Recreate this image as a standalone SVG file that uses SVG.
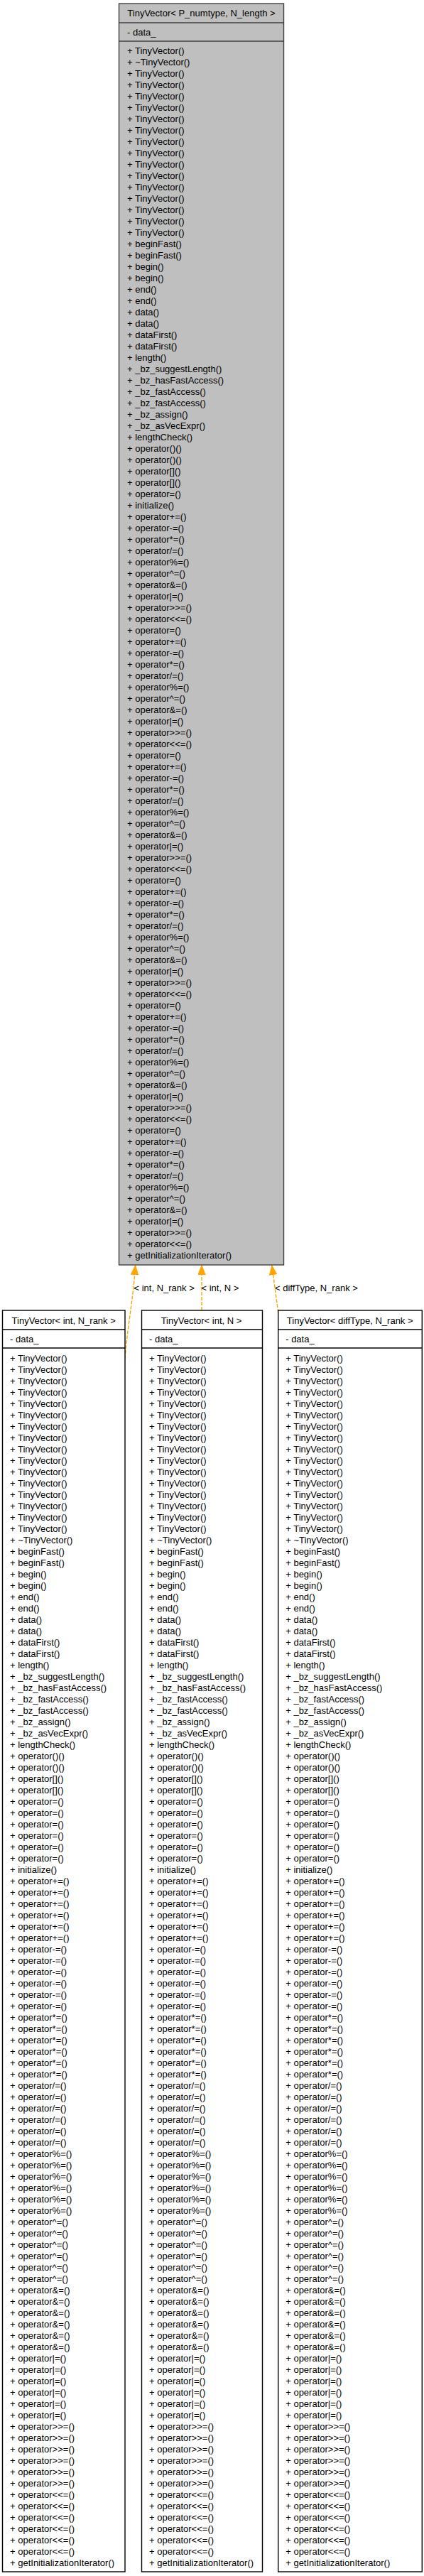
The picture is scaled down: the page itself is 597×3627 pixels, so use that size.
<svg xmlns="http://www.w3.org/2000/svg" width="597" height="3627" viewBox="0 0 597 3627">
<style>
.t{font-family:"Liberation Sans",Arial,Helvetica,sans-serif;font-size:13px;fill:#000}
.ttl{text-anchor:middle}
.base .box{fill:#bfbfbf;stroke:#404040;stroke-width:1.4}
.base .sep{stroke:#404040;stroke-width:1.4}
.inst .box{fill:#fff;stroke:#000;stroke-width:1.4}
.inst .sep{stroke:#000;stroke-width:1.4}
.edge{fill:none;stroke:#ffa500;stroke-width:1.4;stroke-dasharray:5,2}
.lbl{font-family:"Liberation Sans",Arial,Helvetica,sans-serif;font-size:13px;fill:#000}
</style>
<defs>
<marker id="ah" viewBox="0 0 14 11" refX="0" refY="5.5" markerWidth="14" markerHeight="11" markerUnits="userSpaceOnUse" orient="auto">
<path d="M0,0 L14,5.5 L0,11 z" fill="#ffa500" stroke="#ffa500" stroke-width="0.5"/>
</marker>
</defs>
<rect x="0" y="0" width="597" height="3627" fill="#fff"/>

<g id="connectors">
<path class="edge" d="M176,1913 C178,1880 187,1830 189.6,1795" marker-end="url(#ah)"/>
<path class="edge" d="M284,1845 L284,1795" marker-end="url(#ah)"/>
<path class="edge" d="M391.7,1848 L384.6,1795" marker-end="url(#ah)"/>
<text class="lbl" x="188.5" y="1818">&lt; int, N_rank &gt;</text>
<text class="lbl" x="283.5" y="1818">&lt; int, N &gt;</text>
<text class="lbl" x="387" y="1818">&lt; diffType, N_rank &gt;</text>
</g>

<g id="node_base" class="base" transform="translate(167.5,5)">
<rect class="box" x="0" y="0" width="232" height="1776"/>
<line class="sep" x1="0" y1="27" x2="232" y2="27"/>
<line class="sep" x1="0" y1="53" x2="232" y2="53"/>
<text class="t ttl" x="116" y="18.3">TinyVector&lt; P_numtype, N_length &gt;</text>
<text class="t" x="11.5" y="44.5">- data_</text>
<text class="t"><tspan x="11.5" y="71.3">+ TinyVector()</tspan><tspan x="11.5" dy="16">+ ~TinyVector()</tspan><tspan x="11.5" dy="16">+ TinyVector()</tspan><tspan x="11.5" dy="16">+ TinyVector()</tspan><tspan x="11.5" dy="16">+ TinyVector()</tspan><tspan x="11.5" dy="16">+ TinyVector()</tspan><tspan x="11.5" dy="16">+ TinyVector()</tspan><tspan x="11.5" dy="16">+ TinyVector()</tspan><tspan x="11.5" dy="16">+ TinyVector()</tspan><tspan x="11.5" dy="16">+ TinyVector()</tspan><tspan x="11.5" dy="16">+ TinyVector()</tspan><tspan x="11.5" dy="16">+ TinyVector()</tspan><tspan x="11.5" dy="16">+ TinyVector()</tspan><tspan x="11.5" dy="16">+ TinyVector()</tspan><tspan x="11.5" dy="16">+ TinyVector()</tspan><tspan x="11.5" dy="16">+ TinyVector()</tspan><tspan x="11.5" dy="16">+ TinyVector()</tspan><tspan x="11.5" dy="16">+ beginFast()</tspan><tspan x="11.5" dy="16">+ beginFast()</tspan><tspan x="11.5" dy="16">+ begin()</tspan><tspan x="11.5" dy="16">+ begin()</tspan><tspan x="11.5" dy="16">+ end()</tspan><tspan x="11.5" dy="16">+ end()</tspan><tspan x="11.5" dy="16">+ data()</tspan><tspan x="11.5" dy="16">+ data()</tspan><tspan x="11.5" dy="16">+ dataFirst()</tspan><tspan x="11.5" dy="16">+ dataFirst()</tspan><tspan x="11.5" dy="16">+ length()</tspan><tspan x="11.5" dy="16">+ _bz_suggestLength()</tspan><tspan x="11.5" dy="16">+ _bz_hasFastAccess()</tspan><tspan x="11.5" dy="16">+ _bz_fastAccess()</tspan><tspan x="11.5" dy="16">+ _bz_fastAccess()</tspan><tspan x="11.5" dy="16">+ _bz_assign()</tspan><tspan x="11.5" dy="16">+ _bz_asVecExpr()</tspan><tspan x="11.5" dy="16">+ lengthCheck()</tspan><tspan x="11.5" dy="16">+ operator()()</tspan><tspan x="11.5" dy="16">+ operator()()</tspan><tspan x="11.5" dy="16">+ operator[]()</tspan><tspan x="11.5" dy="16">+ operator[]()</tspan><tspan x="11.5" dy="16">+ operator=()</tspan><tspan x="11.5" dy="16">+ initialize()</tspan><tspan x="11.5" dy="16">+ operator+=()</tspan><tspan x="11.5" dy="16">+ operator-=()</tspan><tspan x="11.5" dy="16">+ operator*=()</tspan><tspan x="11.5" dy="16">+ operator/=()</tspan><tspan x="11.5" dy="16">+ operator%=()</tspan><tspan x="11.5" dy="16">+ operator^=()</tspan><tspan x="11.5" dy="16">+ operator&amp;=()</tspan><tspan x="11.5" dy="16">+ operator|=()</tspan><tspan x="11.5" dy="16">+ operator&gt;&gt;=()</tspan><tspan x="11.5" dy="16">+ operator&lt;&lt;=()</tspan><tspan x="11.5" dy="16">+ operator=()</tspan><tspan x="11.5" dy="16">+ operator+=()</tspan><tspan x="11.5" dy="16">+ operator-=()</tspan><tspan x="11.5" dy="16">+ operator*=()</tspan><tspan x="11.5" dy="16">+ operator/=()</tspan><tspan x="11.5" dy="16">+ operator%=()</tspan><tspan x="11.5" dy="16">+ operator^=()</tspan><tspan x="11.5" dy="16">+ operator&amp;=()</tspan><tspan x="11.5" dy="16">+ operator|=()</tspan><tspan x="11.5" dy="16">+ operator&gt;&gt;=()</tspan><tspan x="11.5" dy="16">+ operator&lt;&lt;=()</tspan><tspan x="11.5" dy="16">+ operator=()</tspan><tspan x="11.5" dy="16">+ operator+=()</tspan><tspan x="11.5" dy="16">+ operator-=()</tspan><tspan x="11.5" dy="16">+ operator*=()</tspan><tspan x="11.5" dy="16">+ operator/=()</tspan><tspan x="11.5" dy="16">+ operator%=()</tspan><tspan x="11.5" dy="16">+ operator^=()</tspan><tspan x="11.5" dy="16">+ operator&amp;=()</tspan><tspan x="11.5" dy="16">+ operator|=()</tspan><tspan x="11.5" dy="16">+ operator&gt;&gt;=()</tspan><tspan x="11.5" dy="16">+ operator&lt;&lt;=()</tspan><tspan x="11.5" dy="16">+ operator=()</tspan><tspan x="11.5" dy="16">+ operator+=()</tspan><tspan x="11.5" dy="16">+ operator-=()</tspan><tspan x="11.5" dy="16">+ operator*=()</tspan><tspan x="11.5" dy="16">+ operator/=()</tspan><tspan x="11.5" dy="16">+ operator%=()</tspan><tspan x="11.5" dy="16">+ operator^=()</tspan><tspan x="11.5" dy="16">+ operator&amp;=()</tspan><tspan x="11.5" dy="16">+ operator|=()</tspan><tspan x="11.5" dy="16">+ operator&gt;&gt;=()</tspan><tspan x="11.5" dy="16">+ operator&lt;&lt;=()</tspan><tspan x="11.5" dy="16">+ operator=()</tspan><tspan x="11.5" dy="16">+ operator+=()</tspan><tspan x="11.5" dy="16">+ operator-=()</tspan><tspan x="11.5" dy="16">+ operator*=()</tspan><tspan x="11.5" dy="16">+ operator/=()</tspan><tspan x="11.5" dy="16">+ operator%=()</tspan><tspan x="11.5" dy="16">+ operator^=()</tspan><tspan x="11.5" dy="16">+ operator&amp;=()</tspan><tspan x="11.5" dy="16">+ operator|=()</tspan><tspan x="11.5" dy="16">+ operator&gt;&gt;=()</tspan><tspan x="11.5" dy="16">+ operator&lt;&lt;=()</tspan><tspan x="11.5" dy="16">+ operator=()</tspan><tspan x="11.5" dy="16">+ operator+=()</tspan><tspan x="11.5" dy="16">+ operator-=()</tspan><tspan x="11.5" dy="16">+ operator*=()</tspan><tspan x="11.5" dy="16">+ operator/=()</tspan><tspan x="11.5" dy="16">+ operator%=()</tspan><tspan x="11.5" dy="16">+ operator^=()</tspan><tspan x="11.5" dy="16">+ operator&amp;=()</tspan><tspan x="11.5" dy="16">+ operator|=()</tspan><tspan x="11.5" dy="16">+ operator&gt;&gt;=()</tspan><tspan x="11.5" dy="16">+ operator&lt;&lt;=()</tspan><tspan x="11.5" dy="16">+ getInitializationIterator()</tspan></text>
</g>

<g id="node_int_N_rank" class="inst" transform="translate(3.5,1845)">
<rect class="box" x="0" y="0" width="172.5" height="1776"/>
<line class="sep" x1="0" y1="27" x2="172.5" y2="27"/>
<line class="sep" x1="0" y1="53" x2="172.5" y2="53"/>
<text class="t ttl" x="86.2" y="18.8">TinyVector&lt; int, N_rank &gt;</text>
<text class="t" x="10.5" y="44.5">- data_</text>
<text class="t"><tspan x="10.5" y="71.5">+ TinyVector()</tspan><tspan x="10.5" dy="16">+ TinyVector()</tspan><tspan x="10.5" dy="16">+ TinyVector()</tspan><tspan x="10.5" dy="16">+ TinyVector()</tspan><tspan x="10.5" dy="16">+ TinyVector()</tspan><tspan x="10.5" dy="16">+ TinyVector()</tspan><tspan x="10.5" dy="16">+ TinyVector()</tspan><tspan x="10.5" dy="16">+ TinyVector()</tspan><tspan x="10.5" dy="16">+ TinyVector()</tspan><tspan x="10.5" dy="16">+ TinyVector()</tspan><tspan x="10.5" dy="16">+ TinyVector()</tspan><tspan x="10.5" dy="16">+ TinyVector()</tspan><tspan x="10.5" dy="16">+ TinyVector()</tspan><tspan x="10.5" dy="16">+ TinyVector()</tspan><tspan x="10.5" dy="16">+ TinyVector()</tspan><tspan x="10.5" dy="16">+ TinyVector()</tspan><tspan x="10.5" dy="16">+ ~TinyVector()</tspan><tspan x="10.5" dy="16">+ beginFast()</tspan><tspan x="10.5" dy="16">+ beginFast()</tspan><tspan x="10.5" dy="16">+ begin()</tspan><tspan x="10.5" dy="16">+ begin()</tspan><tspan x="10.5" dy="16">+ end()</tspan><tspan x="10.5" dy="16">+ end()</tspan><tspan x="10.5" dy="16">+ data()</tspan><tspan x="10.5" dy="16">+ data()</tspan><tspan x="10.5" dy="16">+ dataFirst()</tspan><tspan x="10.5" dy="16">+ dataFirst()</tspan><tspan x="10.5" dy="16">+ length()</tspan><tspan x="10.5" dy="16">+ _bz_suggestLength()</tspan><tspan x="10.5" dy="16">+ _bz_hasFastAccess()</tspan><tspan x="10.5" dy="16">+ _bz_fastAccess()</tspan><tspan x="10.5" dy="16">+ _bz_fastAccess()</tspan><tspan x="10.5" dy="16">+ _bz_assign()</tspan><tspan x="10.5" dy="16">+ _bz_asVecExpr()</tspan><tspan x="10.5" dy="16">+ lengthCheck()</tspan><tspan x="10.5" dy="16">+ operator()()</tspan><tspan x="10.5" dy="16">+ operator()()</tspan><tspan x="10.5" dy="16">+ operator[]()</tspan><tspan x="10.5" dy="16">+ operator[]()</tspan><tspan x="10.5" dy="16">+ operator=()</tspan><tspan x="10.5" dy="16">+ operator=()</tspan><tspan x="10.5" dy="16">+ operator=()</tspan><tspan x="10.5" dy="16">+ operator=()</tspan><tspan x="10.5" dy="16">+ operator=()</tspan><tspan x="10.5" dy="16">+ operator=()</tspan><tspan x="10.5" dy="16">+ initialize()</tspan><tspan x="10.5" dy="16">+ operator+=()</tspan><tspan x="10.5" dy="16">+ operator+=()</tspan><tspan x="10.5" dy="16">+ operator+=()</tspan><tspan x="10.5" dy="16">+ operator+=()</tspan><tspan x="10.5" dy="16">+ operator+=()</tspan><tspan x="10.5" dy="16">+ operator+=()</tspan><tspan x="10.5" dy="16">+ operator-=()</tspan><tspan x="10.5" dy="16">+ operator-=()</tspan><tspan x="10.5" dy="16">+ operator-=()</tspan><tspan x="10.5" dy="16">+ operator-=()</tspan><tspan x="10.5" dy="16">+ operator-=()</tspan><tspan x="10.5" dy="16">+ operator-=()</tspan><tspan x="10.5" dy="16">+ operator*=()</tspan><tspan x="10.5" dy="16">+ operator*=()</tspan><tspan x="10.5" dy="16">+ operator*=()</tspan><tspan x="10.5" dy="16">+ operator*=()</tspan><tspan x="10.5" dy="16">+ operator*=()</tspan><tspan x="10.5" dy="16">+ operator*=()</tspan><tspan x="10.5" dy="16">+ operator/=()</tspan><tspan x="10.5" dy="16">+ operator/=()</tspan><tspan x="10.5" dy="16">+ operator/=()</tspan><tspan x="10.5" dy="16">+ operator/=()</tspan><tspan x="10.5" dy="16">+ operator/=()</tspan><tspan x="10.5" dy="16">+ operator/=()</tspan><tspan x="10.5" dy="16">+ operator%=()</tspan><tspan x="10.5" dy="16">+ operator%=()</tspan><tspan x="10.5" dy="16">+ operator%=()</tspan><tspan x="10.5" dy="16">+ operator%=()</tspan><tspan x="10.5" dy="16">+ operator%=()</tspan><tspan x="10.5" dy="16">+ operator%=()</tspan><tspan x="10.5" dy="16">+ operator^=()</tspan><tspan x="10.5" dy="16">+ operator^=()</tspan><tspan x="10.5" dy="16">+ operator^=()</tspan><tspan x="10.5" dy="16">+ operator^=()</tspan><tspan x="10.5" dy="16">+ operator^=()</tspan><tspan x="10.5" dy="16">+ operator^=()</tspan><tspan x="10.5" dy="16">+ operator&amp;=()</tspan><tspan x="10.5" dy="16">+ operator&amp;=()</tspan><tspan x="10.5" dy="16">+ operator&amp;=()</tspan><tspan x="10.5" dy="16">+ operator&amp;=()</tspan><tspan x="10.5" dy="16">+ operator&amp;=()</tspan><tspan x="10.5" dy="16">+ operator&amp;=()</tspan><tspan x="10.5" dy="16">+ operator|=()</tspan><tspan x="10.5" dy="16">+ operator|=()</tspan><tspan x="10.5" dy="16">+ operator|=()</tspan><tspan x="10.5" dy="16">+ operator|=()</tspan><tspan x="10.5" dy="16">+ operator|=()</tspan><tspan x="10.5" dy="16">+ operator|=()</tspan><tspan x="10.5" dy="16">+ operator&gt;&gt;=()</tspan><tspan x="10.5" dy="16">+ operator&gt;&gt;=()</tspan><tspan x="10.5" dy="16">+ operator&gt;&gt;=()</tspan><tspan x="10.5" dy="16">+ operator&gt;&gt;=()</tspan><tspan x="10.5" dy="16">+ operator&gt;&gt;=()</tspan><tspan x="10.5" dy="16">+ operator&gt;&gt;=()</tspan><tspan x="10.5" dy="16">+ operator&lt;&lt;=()</tspan><tspan x="10.5" dy="16">+ operator&lt;&lt;=()</tspan><tspan x="10.5" dy="16">+ operator&lt;&lt;=()</tspan><tspan x="10.5" dy="16">+ operator&lt;&lt;=()</tspan><tspan x="10.5" dy="16">+ operator&lt;&lt;=()</tspan><tspan x="10.5" dy="16">+ operator&lt;&lt;=()</tspan><tspan x="10.5" dy="16">+ getInitializationIterator()</tspan></text>
</g>

<g id="node_int_N" class="inst" transform="translate(199.5,1845)">
<rect class="box" x="0" y="0" width="170" height="1776"/>
<line class="sep" x1="0" y1="27" x2="170" y2="27"/>
<line class="sep" x1="0" y1="53" x2="170" y2="53"/>
<text class="t ttl" x="84" y="18.8">TinyVector&lt; int, N &gt;</text>
<text class="t" x="10.5" y="44.5">- data_</text>
<text class="t"><tspan x="10.5" y="71.5">+ TinyVector()</tspan><tspan x="10.5" dy="16">+ TinyVector()</tspan><tspan x="10.5" dy="16">+ TinyVector()</tspan><tspan x="10.5" dy="16">+ TinyVector()</tspan><tspan x="10.5" dy="16">+ TinyVector()</tspan><tspan x="10.5" dy="16">+ TinyVector()</tspan><tspan x="10.5" dy="16">+ TinyVector()</tspan><tspan x="10.5" dy="16">+ TinyVector()</tspan><tspan x="10.5" dy="16">+ TinyVector()</tspan><tspan x="10.5" dy="16">+ TinyVector()</tspan><tspan x="10.5" dy="16">+ TinyVector()</tspan><tspan x="10.5" dy="16">+ TinyVector()</tspan><tspan x="10.5" dy="16">+ TinyVector()</tspan><tspan x="10.5" dy="16">+ TinyVector()</tspan><tspan x="10.5" dy="16">+ TinyVector()</tspan><tspan x="10.5" dy="16">+ TinyVector()</tspan><tspan x="10.5" dy="16">+ ~TinyVector()</tspan><tspan x="10.5" dy="16">+ beginFast()</tspan><tspan x="10.5" dy="16">+ beginFast()</tspan><tspan x="10.5" dy="16">+ begin()</tspan><tspan x="10.5" dy="16">+ begin()</tspan><tspan x="10.5" dy="16">+ end()</tspan><tspan x="10.5" dy="16">+ end()</tspan><tspan x="10.5" dy="16">+ data()</tspan><tspan x="10.5" dy="16">+ data()</tspan><tspan x="10.5" dy="16">+ dataFirst()</tspan><tspan x="10.5" dy="16">+ dataFirst()</tspan><tspan x="10.5" dy="16">+ length()</tspan><tspan x="10.5" dy="16">+ _bz_suggestLength()</tspan><tspan x="10.5" dy="16">+ _bz_hasFastAccess()</tspan><tspan x="10.5" dy="16">+ _bz_fastAccess()</tspan><tspan x="10.5" dy="16">+ _bz_fastAccess()</tspan><tspan x="10.5" dy="16">+ _bz_assign()</tspan><tspan x="10.5" dy="16">+ _bz_asVecExpr()</tspan><tspan x="10.5" dy="16">+ lengthCheck()</tspan><tspan x="10.5" dy="16">+ operator()()</tspan><tspan x="10.5" dy="16">+ operator()()</tspan><tspan x="10.5" dy="16">+ operator[]()</tspan><tspan x="10.5" dy="16">+ operator[]()</tspan><tspan x="10.5" dy="16">+ operator=()</tspan><tspan x="10.5" dy="16">+ operator=()</tspan><tspan x="10.5" dy="16">+ operator=()</tspan><tspan x="10.5" dy="16">+ operator=()</tspan><tspan x="10.5" dy="16">+ operator=()</tspan><tspan x="10.5" dy="16">+ operator=()</tspan><tspan x="10.5" dy="16">+ initialize()</tspan><tspan x="10.5" dy="16">+ operator+=()</tspan><tspan x="10.5" dy="16">+ operator+=()</tspan><tspan x="10.5" dy="16">+ operator+=()</tspan><tspan x="10.5" dy="16">+ operator+=()</tspan><tspan x="10.5" dy="16">+ operator+=()</tspan><tspan x="10.5" dy="16">+ operator+=()</tspan><tspan x="10.5" dy="16">+ operator-=()</tspan><tspan x="10.5" dy="16">+ operator-=()</tspan><tspan x="10.5" dy="16">+ operator-=()</tspan><tspan x="10.5" dy="16">+ operator-=()</tspan><tspan x="10.5" dy="16">+ operator-=()</tspan><tspan x="10.5" dy="16">+ operator-=()</tspan><tspan x="10.5" dy="16">+ operator*=()</tspan><tspan x="10.5" dy="16">+ operator*=()</tspan><tspan x="10.5" dy="16">+ operator*=()</tspan><tspan x="10.5" dy="16">+ operator*=()</tspan><tspan x="10.5" dy="16">+ operator*=()</tspan><tspan x="10.5" dy="16">+ operator*=()</tspan><tspan x="10.5" dy="16">+ operator/=()</tspan><tspan x="10.5" dy="16">+ operator/=()</tspan><tspan x="10.5" dy="16">+ operator/=()</tspan><tspan x="10.5" dy="16">+ operator/=()</tspan><tspan x="10.5" dy="16">+ operator/=()</tspan><tspan x="10.5" dy="16">+ operator/=()</tspan><tspan x="10.5" dy="16">+ operator%=()</tspan><tspan x="10.5" dy="16">+ operator%=()</tspan><tspan x="10.5" dy="16">+ operator%=()</tspan><tspan x="10.5" dy="16">+ operator%=()</tspan><tspan x="10.5" dy="16">+ operator%=()</tspan><tspan x="10.5" dy="16">+ operator%=()</tspan><tspan x="10.5" dy="16">+ operator^=()</tspan><tspan x="10.5" dy="16">+ operator^=()</tspan><tspan x="10.5" dy="16">+ operator^=()</tspan><tspan x="10.5" dy="16">+ operator^=()</tspan><tspan x="10.5" dy="16">+ operator^=()</tspan><tspan x="10.5" dy="16">+ operator^=()</tspan><tspan x="10.5" dy="16">+ operator&amp;=()</tspan><tspan x="10.5" dy="16">+ operator&amp;=()</tspan><tspan x="10.5" dy="16">+ operator&amp;=()</tspan><tspan x="10.5" dy="16">+ operator&amp;=()</tspan><tspan x="10.5" dy="16">+ operator&amp;=()</tspan><tspan x="10.5" dy="16">+ operator&amp;=()</tspan><tspan x="10.5" dy="16">+ operator|=()</tspan><tspan x="10.5" dy="16">+ operator|=()</tspan><tspan x="10.5" dy="16">+ operator|=()</tspan><tspan x="10.5" dy="16">+ operator|=()</tspan><tspan x="10.5" dy="16">+ operator|=()</tspan><tspan x="10.5" dy="16">+ operator|=()</tspan><tspan x="10.5" dy="16">+ operator&gt;&gt;=()</tspan><tspan x="10.5" dy="16">+ operator&gt;&gt;=()</tspan><tspan x="10.5" dy="16">+ operator&gt;&gt;=()</tspan><tspan x="10.5" dy="16">+ operator&gt;&gt;=()</tspan><tspan x="10.5" dy="16">+ operator&gt;&gt;=()</tspan><tspan x="10.5" dy="16">+ operator&gt;&gt;=()</tspan><tspan x="10.5" dy="16">+ operator&lt;&lt;=()</tspan><tspan x="10.5" dy="16">+ operator&lt;&lt;=()</tspan><tspan x="10.5" dy="16">+ operator&lt;&lt;=()</tspan><tspan x="10.5" dy="16">+ operator&lt;&lt;=()</tspan><tspan x="10.5" dy="16">+ operator&lt;&lt;=()</tspan><tspan x="10.5" dy="16">+ operator&lt;&lt;=()</tspan><tspan x="10.5" dy="16">+ getInitializationIterator()</tspan></text>
</g>

<g id="node_diffType_N_rank" class="inst" transform="translate(391.7,1845)">
<rect class="box" x="0" y="0" width="202.6" height="1776"/>
<line class="sep" x1="0" y1="27" x2="202.6" y2="27"/>
<line class="sep" x1="0" y1="53" x2="202.6" y2="53"/>
<text class="t ttl" x="101" y="18.8">TinyVector&lt; diffType, N_rank &gt;</text>
<text class="t" x="10.5" y="44.5">- data_</text>
<text class="t"><tspan x="10.5" y="71.5">+ TinyVector()</tspan><tspan x="10.5" dy="16">+ TinyVector()</tspan><tspan x="10.5" dy="16">+ TinyVector()</tspan><tspan x="10.5" dy="16">+ TinyVector()</tspan><tspan x="10.5" dy="16">+ TinyVector()</tspan><tspan x="10.5" dy="16">+ TinyVector()</tspan><tspan x="10.5" dy="16">+ TinyVector()</tspan><tspan x="10.5" dy="16">+ TinyVector()</tspan><tspan x="10.5" dy="16">+ TinyVector()</tspan><tspan x="10.5" dy="16">+ TinyVector()</tspan><tspan x="10.5" dy="16">+ TinyVector()</tspan><tspan x="10.5" dy="16">+ TinyVector()</tspan><tspan x="10.5" dy="16">+ TinyVector()</tspan><tspan x="10.5" dy="16">+ TinyVector()</tspan><tspan x="10.5" dy="16">+ TinyVector()</tspan><tspan x="10.5" dy="16">+ TinyVector()</tspan><tspan x="10.5" dy="16">+ ~TinyVector()</tspan><tspan x="10.5" dy="16">+ beginFast()</tspan><tspan x="10.5" dy="16">+ beginFast()</tspan><tspan x="10.5" dy="16">+ begin()</tspan><tspan x="10.5" dy="16">+ begin()</tspan><tspan x="10.5" dy="16">+ end()</tspan><tspan x="10.5" dy="16">+ end()</tspan><tspan x="10.5" dy="16">+ data()</tspan><tspan x="10.5" dy="16">+ data()</tspan><tspan x="10.5" dy="16">+ dataFirst()</tspan><tspan x="10.5" dy="16">+ dataFirst()</tspan><tspan x="10.5" dy="16">+ length()</tspan><tspan x="10.5" dy="16">+ _bz_suggestLength()</tspan><tspan x="10.5" dy="16">+ _bz_hasFastAccess()</tspan><tspan x="10.5" dy="16">+ _bz_fastAccess()</tspan><tspan x="10.5" dy="16">+ _bz_fastAccess()</tspan><tspan x="10.5" dy="16">+ _bz_assign()</tspan><tspan x="10.5" dy="16">+ _bz_asVecExpr()</tspan><tspan x="10.5" dy="16">+ lengthCheck()</tspan><tspan x="10.5" dy="16">+ operator()()</tspan><tspan x="10.5" dy="16">+ operator()()</tspan><tspan x="10.5" dy="16">+ operator[]()</tspan><tspan x="10.5" dy="16">+ operator[]()</tspan><tspan x="10.5" dy="16">+ operator=()</tspan><tspan x="10.5" dy="16">+ operator=()</tspan><tspan x="10.5" dy="16">+ operator=()</tspan><tspan x="10.5" dy="16">+ operator=()</tspan><tspan x="10.5" dy="16">+ operator=()</tspan><tspan x="10.5" dy="16">+ operator=()</tspan><tspan x="10.5" dy="16">+ initialize()</tspan><tspan x="10.5" dy="16">+ operator+=()</tspan><tspan x="10.5" dy="16">+ operator+=()</tspan><tspan x="10.5" dy="16">+ operator+=()</tspan><tspan x="10.5" dy="16">+ operator+=()</tspan><tspan x="10.5" dy="16">+ operator+=()</tspan><tspan x="10.5" dy="16">+ operator+=()</tspan><tspan x="10.5" dy="16">+ operator-=()</tspan><tspan x="10.5" dy="16">+ operator-=()</tspan><tspan x="10.5" dy="16">+ operator-=()</tspan><tspan x="10.5" dy="16">+ operator-=()</tspan><tspan x="10.5" dy="16">+ operator-=()</tspan><tspan x="10.5" dy="16">+ operator-=()</tspan><tspan x="10.5" dy="16">+ operator*=()</tspan><tspan x="10.5" dy="16">+ operator*=()</tspan><tspan x="10.5" dy="16">+ operator*=()</tspan><tspan x="10.5" dy="16">+ operator*=()</tspan><tspan x="10.5" dy="16">+ operator*=()</tspan><tspan x="10.5" dy="16">+ operator*=()</tspan><tspan x="10.5" dy="16">+ operator/=()</tspan><tspan x="10.5" dy="16">+ operator/=()</tspan><tspan x="10.5" dy="16">+ operator/=()</tspan><tspan x="10.5" dy="16">+ operator/=()</tspan><tspan x="10.5" dy="16">+ operator/=()</tspan><tspan x="10.5" dy="16">+ operator/=()</tspan><tspan x="10.5" dy="16">+ operator%=()</tspan><tspan x="10.5" dy="16">+ operator%=()</tspan><tspan x="10.5" dy="16">+ operator%=()</tspan><tspan x="10.5" dy="16">+ operator%=()</tspan><tspan x="10.5" dy="16">+ operator%=()</tspan><tspan x="10.5" dy="16">+ operator%=()</tspan><tspan x="10.5" dy="16">+ operator^=()</tspan><tspan x="10.5" dy="16">+ operator^=()</tspan><tspan x="10.5" dy="16">+ operator^=()</tspan><tspan x="10.5" dy="16">+ operator^=()</tspan><tspan x="10.5" dy="16">+ operator^=()</tspan><tspan x="10.5" dy="16">+ operator^=()</tspan><tspan x="10.5" dy="16">+ operator&amp;=()</tspan><tspan x="10.5" dy="16">+ operator&amp;=()</tspan><tspan x="10.5" dy="16">+ operator&amp;=()</tspan><tspan x="10.5" dy="16">+ operator&amp;=()</tspan><tspan x="10.5" dy="16">+ operator&amp;=()</tspan><tspan x="10.5" dy="16">+ operator&amp;=()</tspan><tspan x="10.5" dy="16">+ operator|=()</tspan><tspan x="10.5" dy="16">+ operator|=()</tspan><tspan x="10.5" dy="16">+ operator|=()</tspan><tspan x="10.5" dy="16">+ operator|=()</tspan><tspan x="10.5" dy="16">+ operator|=()</tspan><tspan x="10.5" dy="16">+ operator|=()</tspan><tspan x="10.5" dy="16">+ operator&gt;&gt;=()</tspan><tspan x="10.5" dy="16">+ operator&gt;&gt;=()</tspan><tspan x="10.5" dy="16">+ operator&gt;&gt;=()</tspan><tspan x="10.5" dy="16">+ operator&gt;&gt;=()</tspan><tspan x="10.5" dy="16">+ operator&gt;&gt;=()</tspan><tspan x="10.5" dy="16">+ operator&gt;&gt;=()</tspan><tspan x="10.5" dy="16">+ operator&lt;&lt;=()</tspan><tspan x="10.5" dy="16">+ operator&lt;&lt;=()</tspan><tspan x="10.5" dy="16">+ operator&lt;&lt;=()</tspan><tspan x="10.5" dy="16">+ operator&lt;&lt;=()</tspan><tspan x="10.5" dy="16">+ operator&lt;&lt;=()</tspan><tspan x="10.5" dy="16">+ operator&lt;&lt;=()</tspan><tspan x="10.5" dy="16">+ getInitializationIterator()</tspan></text>
</g>
</svg>
